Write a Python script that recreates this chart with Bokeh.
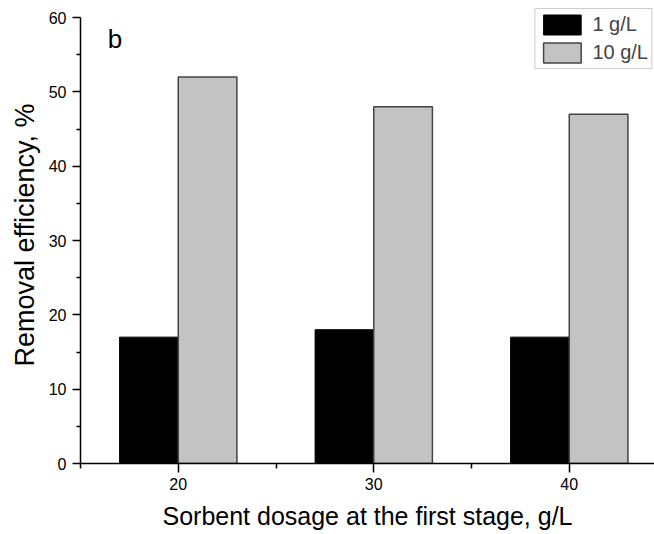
from bokeh.plotting import figure
from bokeh.models import ColumnDataSource, Label, FixedTicker, Range1d
from bokeh.transform import dodge
from bokeh.embed import file_html
from bokeh.resources import INLINE

# Data
dosage = [20, 30, 40]
eff_1gL = [17, 18, 17]
eff_10gL = [52, 48, 47]
x_ticks = [20, 30, 40]
x_minor = [15, 25, 35, 45]
y_ticks = [0, 10, 20, 30, 40, 50, 60]

FONT = "Liberation Sans"

src = ColumnDataSource(dict(x=dosage, a=eff_1gL, b=eff_10gL))

p = figure(width=654, height=534, output_backend="svg", toolbar_location=None,
           x_range=Range1d(15, 44.36), y_range=Range1d(0, 61.48),
           min_border_left=80, min_border_right=0, min_border_top=6, min_border_bottom=71)
p.outline_line_color = None
p.xgrid.visible = False
p.ygrid.visible = False
p.background_fill_color = "white"

p.vbar(x=dodge("x", -1.5, range=p.x_range), top="a", width=3, source=src,
       fill_color="black", line_color="black", line_width=1, legend_label="1 g/L")
p.vbar(x=dodge("x", 1.5, range=p.x_range), top="b", width=3, source=src,
       fill_color="#C3C3C3", line_color="#444444", line_width=1.5, legend_label="10 g/L")

# Axes
for ax in (p.xaxis[0], p.yaxis[0]):
    ax.axis_line_width = 1.5
    ax.axis_line_color = "black"
    ax.major_tick_line_width = 1.5
    ax.minor_tick_line_width = 1.5
    ax.major_tick_in = 0
    ax.minor_tick_in = 0
    ax.major_label_text_font = FONT
    ax.axis_label_text_font = FONT
    ax.major_label_text_color = "black"
    ax.axis_label_text_color = "black"
    ax.axis_label_text_font_style = "normal"

p.xaxis.ticker = FixedTicker(ticks=x_ticks, minor_ticks=x_minor)
p.yaxis.ticker = FixedTicker(ticks=y_ticks, minor_ticks=[5, 15, 25, 35, 45, 55])
p.yaxis.bounds = (0, 60)

p.xaxis.major_tick_out = 9
p.xaxis.minor_tick_out = 5
p.yaxis.major_tick_out = 8
p.yaxis.minor_tick_out = 4

p.xaxis.major_label_text_font_size = "16px"
p.yaxis.major_label_text_font_size = "16px"
p.xaxis.major_label_standoff = 5
p.yaxis.major_label_standoff = 6

p.xaxis.axis_label = "Sorbent dosage at the first stage, g/L"
p.xaxis.axis_label_text_font_size = "25px"
p.xaxis.axis_label_standoff = 9

p.yaxis.axis_label = "Removal efficiency, %"
p.yaxis.axis_label_text_font_size = "27px"
p.yaxis.axis_label_standoff = 6

# Panel label
p.add_layout(Label(x=16.4, y=57.1, text="b", text_font=FONT, text_font_size="26px",
                   text_color="black", text_baseline="alphabetic"))

# Legend
lg = p.legend[0]
lg.location = "top_right"
lg.margin = 2
lg.padding = 3
lg.spacing = 3
lg.glyph_width = 47
lg.glyph_height = 25
lg.label_standoff = 7
lg.label_text_font = FONT
lg.label_text_font_size = "20px"
lg.label_height = 25
lg.border_line_color = "#999999"
lg.border_line_width = 1
lg.background_fill_alpha = 1

open("out.html", "w").write(file_html(p, INLINE))
